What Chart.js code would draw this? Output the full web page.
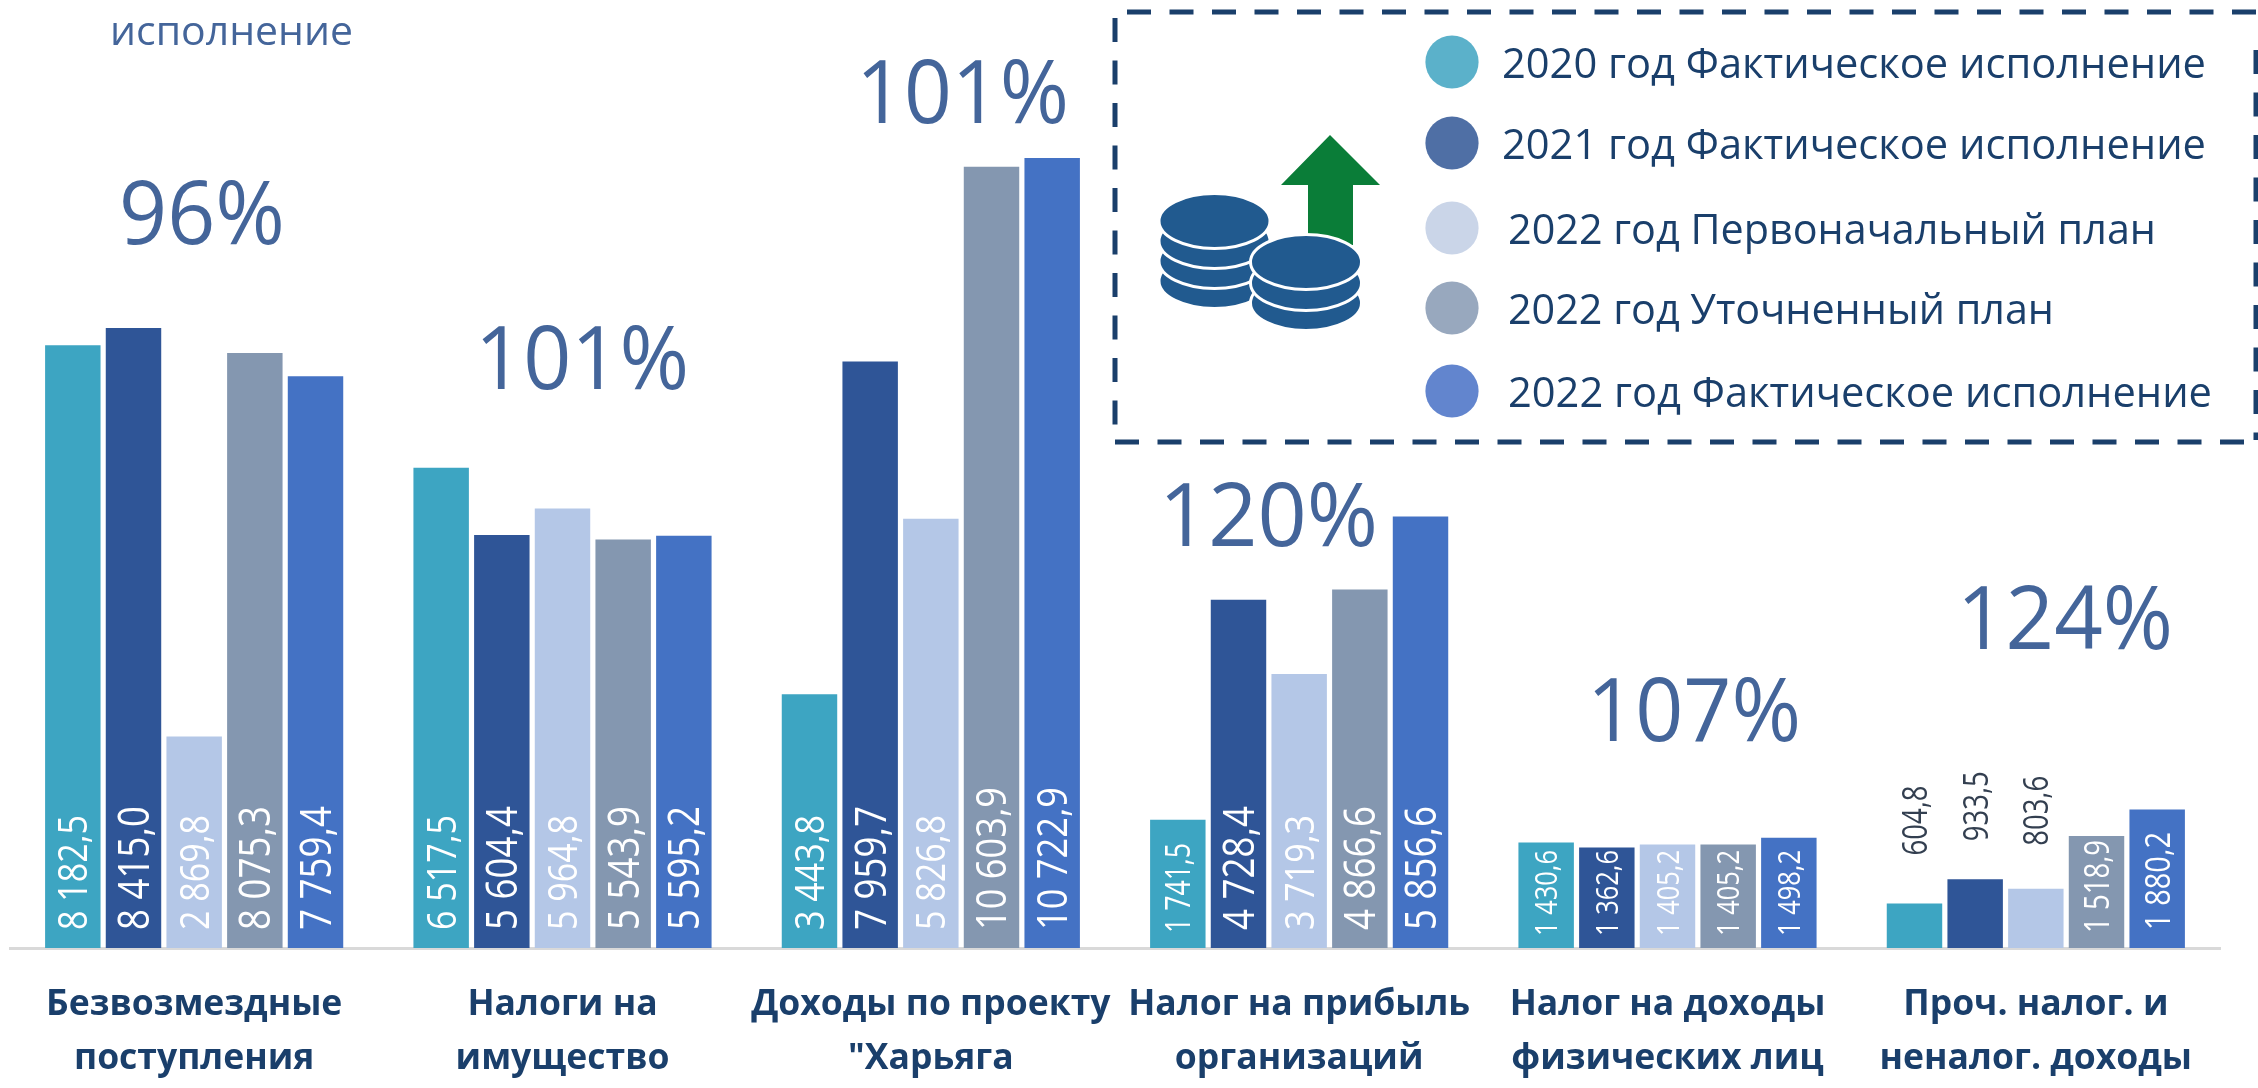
<!DOCTYPE html>
<html lang="ru"><head><meta charset="utf-8">
<style>html,body{margin:0;padding:0;background:#fff}canvas{display:block}</style>
<script src="https://cdn.jsdelivr.net/npm/chart.js@4"></script></head>
<body><canvas id="c" width="2258" height="1088"></canvas>
<script>
const categories=[["Безвозмездные","поступления"],["Налоги на","имущество"],["Доходы по проекту","\"Харьяга"],["Налог на прибыль","организаций"],["Налог на доходы","физических лиц"],["Проч. налог. и","неналог. доходы"]];
const seriesNames=["2020 год Фактическое исполнение","2021 год Фактическое исполнение","2022 год Первоначальный план","2022 год Уточненный план","2022 год Фактическое исполнение"];
const fact2020=[8182.5,6517.5,3443.8,1741.5,1430.6,604.8];
const fact2021=[8415.0,5604.4,7959.7,4728.4,1362.6,933.5];
const plan2022=[2869.8,5964.8,5826.8,3719.3,1405.2,803.6];
const revised2022=[8075.3,5543.9,10603.9,4866.6,1405.2,1518.9];
const fact2022=[7759.4,5595.2,10722.9,5856.6,1498.2,1880.2];
const percents=["96%","101%","101%","120%","107%","124%"];
const caption="исполнение";

const barColors=["#3DA5C2","#2F5597","#B4C7E7","#8497B0","#4472C4"];
const legendColors=["#5BB1CA","#4F6FA5","#CAD5E8","#98A8BE","#6285CE"];
const FONT='"Open Sans","Noto Sans",sans-serif';
const fmt=v=>{const s=v.toFixed(1).replace('.',',');const [a,b]=s.split(',');return a.replace(/\B(?=(\d{3})+$)/g,' ')+','+b;};
function fit(ctx,str,x,y,font,width,color){ctx.save();ctx.font=font;ctx.fillStyle=color;ctx.textAlign='left';ctx.textBaseline='alphabetic';
 const w=ctx.measureText(str).width;ctx.translate(x,y);ctx.scale(width/w,1);ctx.fillText(str,0,0);ctx.restore();}

function drawIcon(ctx){
 ctx.save();
 ctx.fillStyle='#0A7D38';ctx.beginPath();
 [[1330,135],[1380,185],[1353,185],[1353,245],[1308,245],[1308,185],[1281,185]].forEach((p,i)=>i?ctx.lineTo(p[0],p[1]):ctx.moveTo(p[0],p[1]));
 ctx.closePath();ctx.fill();
 const stack=(cx,ys)=>{for(let i=ys.length-1;i>=0;i--){ctx.beginPath();ctx.ellipse(cx,ys[i],55.5,27.5,0,0,Math.PI*2);ctx.fillStyle='#215A8F';ctx.fill();
  ctx.lineWidth=3;ctx.strokeStyle='#fff';ctx.stroke();}};
 stack(1214.5,[221,241,261,281]);
 stack(1306,[262,283,303]);
 ctx.restore();
}
const overlay={id:'overlay',afterDatasetsDraw(chart){
 const ctx=chart.ctx;
 chart.data.datasets.forEach((ds,si)=>{chart.getDatasetMeta(si).data.forEach((bar,i)=>{
  const v=ds.data[i],t=fmt(v);
  ctx.save();
  if(v<1000){
   const baseY=bar.y-(v<700?48:v<900?43:38);
   const h=25;ctx.translate(bar.x+h/2,baseY);ctx.rotate(-Math.PI/2);
   fit(ctx,t,0,0,'34px '+FONT,70,'#333F50');
  }else{
   let len,px,start;
   if(v>=10000){len=143;px=42;start=18;}
   else if(v>=2000){const big=si!==0&&si!==2;len=big?124:115;px=big?43:41;start=18;}
   else if(v>=1500){len=v>=1800?98:(si===3?93:90);px=35;start=v>=1800?18:15;}
   else {len=86;px=31;start=12;}
   const h=px*0.714;ctx.translate(bar.x+h/2,948-start);ctx.rotate(-Math.PI/2);
   fit(ctx,t,0,0,px+'px '+FONT,len,'#FFFFFF');
  }
  ctx.restore();
 });});
 const pc='#44659A',pf='88px '+FONT;
 const pct=[[119,244,166],[475,389,214],[856,123,213],[1159,546,219],[1587,741,214],[1957,649,216]];
 percents.forEach((p,i)=>fit(ctx,p,pct[i][0],pct[i][1],pf,pct[i][2],pc));
 fit(ctx,caption,110,45,'40px '+FONT,243,pc);
 ctx.save();ctx.strokeStyle='#1A3F6B';ctx.lineWidth=5;ctx.setLineDash([24,18.5]);
 ctx.beginPath();ctx.moveTo(1127,12);ctx.lineTo(2258,12);ctx.stroke();
 ctx.beginPath();ctx.moveTo(1115,442);ctx.lineTo(2258,442);ctx.stroke();
 ctx.beginPath();ctx.moveTo(1115,18);ctx.lineTo(1115,430);ctx.stroke();
 ctx.beginPath();ctx.moveTo(2256,50);ctx.lineTo(2256,440);ctx.stroke();
 ctx.restore();
 drawIcon(ctx);
 const ly=[62,143,228,308,391],lx=[1502,1502,1508,1508,1508],lw=[704,704,648,546,704];
 seriesNames.forEach((n,i)=>{ctx.beginPath();ctx.arc(1452,ly[i],26.6,0,Math.PI*2);ctx.fillStyle=legendColors[i];ctx.fill();
  fit(ctx,n,lx[i],ly[i]+16,'42px '+FONT,lw[i],'#1A3F6B');});
}};
const series=[fact2020,fact2021,plan2022,revised2022,fact2022];
new Chart(document.getElementById('c'),{type:'bar',
 data:{labels:categories,datasets:series.map((d,i)=>({label:seriesNames[i],data:d,backgroundColor:barColors[i],categoryPercentage:0.8236,barPercentage:0.914}))},
 plugins:[overlay],
 options:{responsive:false,animation:false,devicePixelRatio:1,
  layout:{padding:{left:10,right:38,top:0,bottom:0}},
  plugins:{legend:{display:false},tooltip:{enabled:false},title:{display:false}},
  scales:{
   y:{display:false,min:0,max:12868},
   x:{grid:{display:false,drawTicks:false},border:{display:true,color:'#D9D9D9',width:3},
    afterFit(s){s.height=140;},
    ticks:{color:'#1A3F6B',padding:30,maxRotation:0,autoSkip:false,font:{family:FONT,size:35.5,weight:'bold',lineHeight:1.52}}}
  }}});
</script></body></html>
